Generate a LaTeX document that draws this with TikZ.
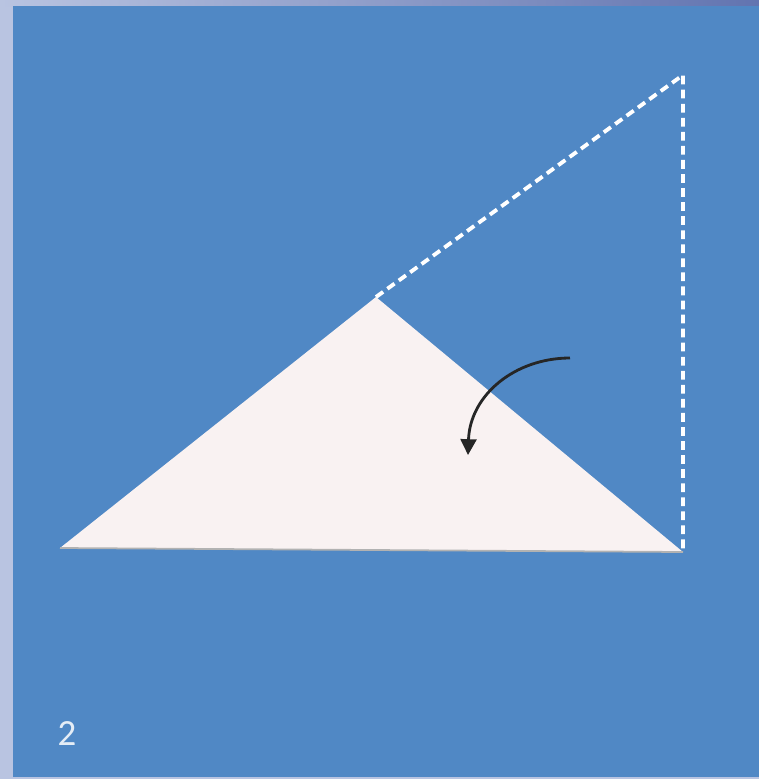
\documentclass[tikz,border=0pt]{standalone}
\usepackage{fontspec}
\newfontfamily\stepfont{Carlito}
\usetikzlibrary{arrows.meta}
\definecolor{paper}{HTML}{5088C5}
\definecolor{frame}{HTML}{B9C4E1}
\definecolor{edge}{HTML}{6274B0}
\definecolor{sheet}{HTML}{F9F2F2}

\begin{document}
\begin{tikzpicture}[x=0.02cm,y=-0.02cm,
  foldline/.style={white,line width=2.2pt,dash pattern=on 5pt off 3pt},
  turn/.style={-{Triangle[length=9pt,width=9pt]},line width=1.6pt,black!85}]
  \fill[frame] (0,0) rectangle (759,779);
  \shade[left color=frame,right color=edge] (0,0) rectangle (759,6);
  \fill[paper] (13,6) rectangle (759,777);
  \coordinate (left) at (60,548);
  \coordinate (apex) at (376,297);
  \coordinate (right) at (683,552);
  \coordinate (corner) at (683,75);
  \fill[sheet] (left)--(apex)--(right)--cycle;
  \draw[black!30,line width=1pt] (left)--(right);
  \draw[foldline] (apex)--(corner)--(right);
  \coordinate (from) at (570,358);
  \coordinate (to) at (468,455);
  \draw[turn] (from) .. controls (515,358) and (470,395) .. (to);
  \node[text=white!85!paper,font=\stepfont\fontsize{21}{21}\selectfont] (num) at (67,734) {2};
\end{tikzpicture}
\end{document}
